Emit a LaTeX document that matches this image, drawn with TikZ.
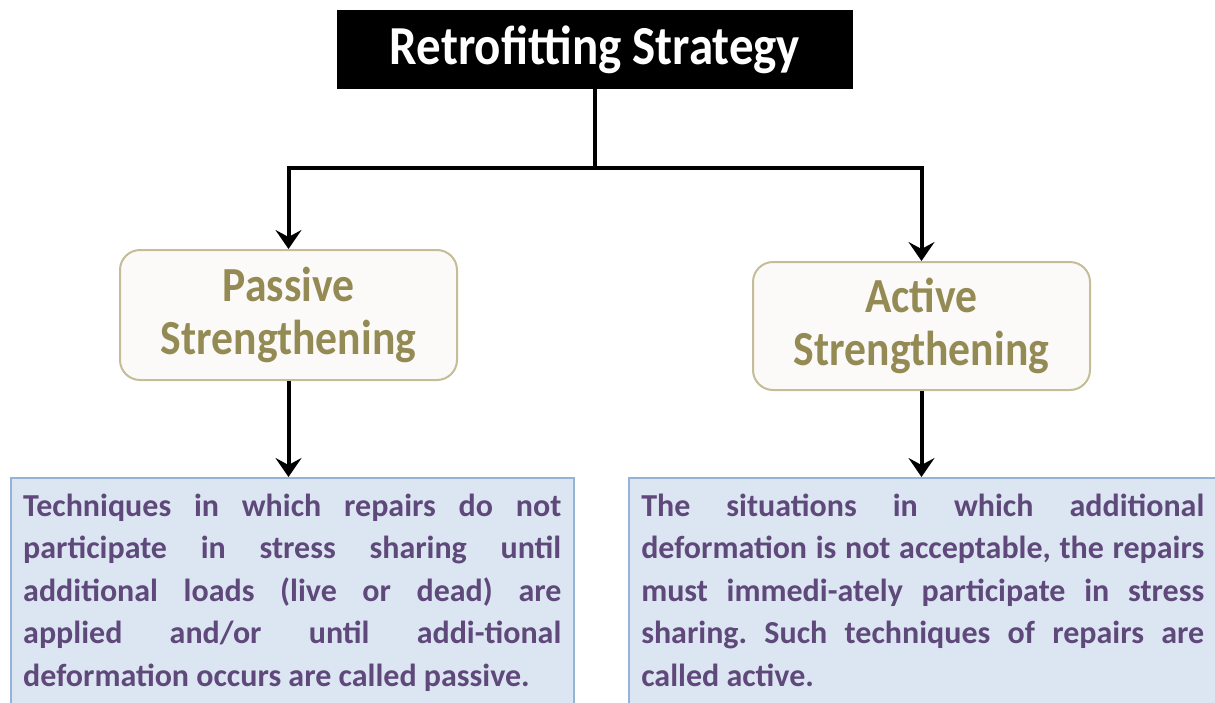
\documentclass[tikz,border=0pt]{standalone}
\usepackage{fontspec}
\setmainfont{Carlito}[FakeStretch=0.89]
\newfontfamily\notefont{Carlito}
\usetikzlibrary{arrows.meta, calc}
\definecolor{tanline}{HTML}{C4BD97}
\definecolor{tanfill}{HTML}{FBFAF8}
\definecolor{tantext}{HTML}{948A54}
\definecolor{bluefill}{HTML}{DCE6F2}
\definecolor{blueline}{HTML}{95B3D7}
\definecolor{plumtext}{HTML}{5F497A}
\frenchspacing
\tikzset{
  head/.style={fill=black, text=white, minimum width=516pt, minimum height=79pt,
    inner sep=0pt, font=\fontsize{55}{60}\selectfont\bfseries},
  kind/.style={draw=tanline, line width=2pt, fill=tanfill, rounded corners=20pt,
    text=tantext, minimum width=337pt, align=center, inner sep=0pt,
    font=\fontsize{49}{53}\selectfont\bfseries},
  note/.style={draw=blueline, line width=1.5pt, fill=bluefill, text=plumtext,
    anchor=north west, align=justify, inner xsep=12.5pt, inner ysep=16pt,
    font=\notefont\fontsize{32}{42.5}\selectfont\bfseries,
    execute at begin node={\tolerance=9999 \exhyphenpenalty=9999 \hyphenpenalty=9999 },
    execute at end node={\rule[-30pt]{0pt}{30pt}}},
  link/.style={line width=4pt, black},
  flow/.style={link, -{Stealth[length=19pt, width=26pt, inset=7pt]}}
}

\begin{document}
\begin{tikzpicture}[x=1pt, y=-1pt]
\useasboundingbox (0,0) rectangle (1215,702);
\clip (0,0) rectangle (1215,702);
\node[head] (title) at (595,49.5) {Retrofitting Strategy};
\node[kind, minimum height=130pt] (passive) at (288.5,315) {Passive\\Strengthening};
\node[kind, minimum height=128pt] (active) at (921.5,326) {Active\\Strengthening};
\node[note, text width=538pt] (passnote) at (10,477)
  {Techniques in which repairs do not\linebreak
   participate in stress sharing until\linebreak
   additional loads (live or dead) are\linebreak
   applied and/or until addi-tional\linebreak
   deformation occurs are called passive.};
\node[note, text width=563pt] (actnote) at (628,477)
  {The situations in which additional\linebreak
   deformation is not acceptable, the repairs\linebreak
   must immedi-ately participate in stress\linebreak
   sharing. Such techniques of repairs are\linebreak
   called active.};
% branches from the strategy box
\coordinate (split) at ($(title.south)+(0,79)$);
\draw[link] (title.south) -- (split);
\draw[flow] (split) -| (passive.north);
\draw[flow] (split) -| (active.north);
% down to the descriptions
\draw[flow] (passive.south) -- (passive.south |- passnote.north);
\draw[flow] (active.south) -- (active.south |- actnote.north);
\end{tikzpicture}
\end{document}
